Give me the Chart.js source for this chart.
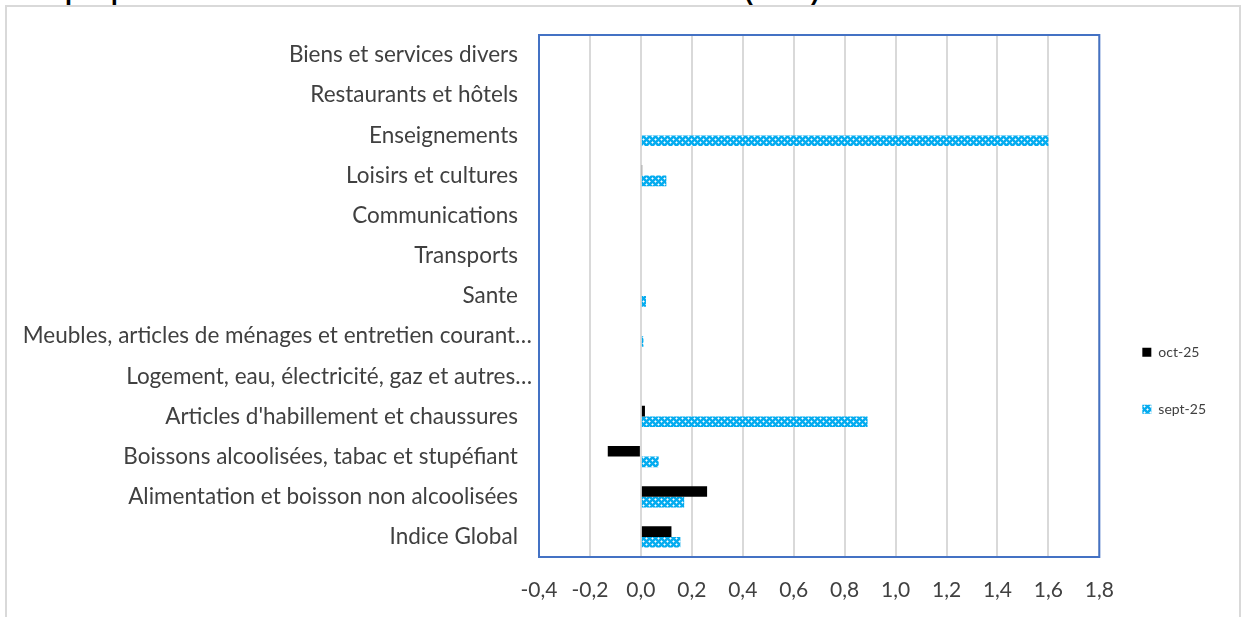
<!DOCTYPE html>
<html>
<head>
<meta charset="utf-8">
<script src="https://cdn.jsdelivr.net/npm/chart.js@4.4.1/dist/chart.umd.min.js"></script>
<style>
  html, body { margin:0; padding:0; background:#ffffff; overflow:hidden; }
  #wrap { position:relative; width:1243px; height:617px; }
  #title { position:absolute; left:22px; top:-21px; font-family:'Liberation Sans', Arial, sans-serif; font-weight:bold; font-size:25px; line-height:25px; color:#000; white-space:nowrap; }
  #frame { position:absolute; left:5px; top:5px; width:1236px; height:700px; border:2px solid #d9d9d9; box-sizing:border-box; }
  canvas { position:absolute; left:0; top:0; }
</style>
</head>
<body>
<div id="wrap">
  <div id="title">Graphique 2 : Variation mensuelle des indices des fonctions (en %)</div>
  <div id="frame"></div>
  <canvas id="c" width="1243" height="617"></canvas>
</div>
<script>
const categories = [
  'Biens et services divers',
  'Restaurants et hôtels',
  'Enseignements',
  'Loisirs et cultures',
  'Communications',
  'Transports',
  'Sante',
  'Meubles, articles de ménages et entretien courant…',
  'Logement, eau, électricité, gaz et autres…',
  "Articles d'habillement et chaussures",
  'Boissons alcoolisées, tabac et stupéfiant',
  'Alimentation et boisson non alcoolisées',
  'Indice Global'
];
const seriesNames = ['oct-25', 'sept-25'];
const oct25  = [0, 0, 0, 0.005, 0, 0, 0, 0, 0, 0.016, -0.13, 0.26, 0.12];
const sept25 = [0, 0, 1.6, 0.1, 0, 0, 0.02, 0.01, 0, 0.89, 0.07, 0.17, 0.155];
const xMin = -0.4, xMax = 1.8, xStep = 0.2;

const canvas = document.getElementById('c');
const ctx = canvas.getContext('2d');

function makePattern() {
  const p = document.createElement('canvas');
  p.width = 6; p.height = 6;
  const g = p.getContext('2d');
  g.fillStyle = '#05ACEF';
  g.fillRect(0, 0, 6, 6);
  g.fillStyle = '#8FD8F8';
  [[0,1],[2,1],[1,0],[1,2],[3,4],[5,4],[4,3],[4,5]].forEach(([x,y]) => g.fillRect(x, y, 1, 1));
  g.fillStyle = '#ffffff';
  [[1,1],[4,4]].forEach(([x,y]) => g.fillRect(x, y, 1, 1));
  return ctx.createPattern(p, 'repeat');
}
const septFill = makePattern();

const framePlugin = {
  id: 'plotFrame',
  afterDraw(chart) {
    const a = chart.chartArea, c = chart.ctx;
    c.save();
    c.strokeStyle = '#4472C4';
    c.lineWidth = 2;
    c.strokeRect(a.left, a.top, a.right - a.left, a.bottom - a.top);
    c.restore();
  }
};

new Chart(ctx, {
  type: 'bar',
  data: {
    labels: categories,
    datasets: [
      { label: seriesNames[0], data: oct25, backgroundColor: '#000000', borderWidth: 0 },
      { label: seriesNames[1], data: sept25, backgroundColor: septFill, borderWidth: 0 }
    ]
  },
  options: {
    indexAxis: 'y',
    responsive: false,
    animation: false,
    devicePixelRatio: 1,
    categoryPercentage: 0.53,
    barPercentage: 1.0,
    layout: { padding: { top: 35, right: 27, bottom: 0, left: 0 } },
    scales: {
      x: {
        type: 'linear',
        min: xMin, max: xMax,
        ticks: {
          stepSize: xStep,
          padding: 21,
          color: '#404040',
          font: { family: 'Lato', size: 21 },
          callback: v => (Math.round(v * 10) / 10).toFixed(1).replace('.', ',')
        },
        grid: { color: '#D9D9D9', lineWidth: 2, drawTicks: false },
        border: { display: false },
        afterFit(scale) { scale.height = 60; }
      },
      y: {
        type: 'category',
        ticks: {
          padding: 7,
          color: '#404040',
          font: { family: 'Lato', size: 22.5 },
          autoSkip: false,
          callback: function(v) {
            const l = this.getLabelForValue(v);
            return l.endsWith('…') ? l : l + '\u2002\u2009';
          }
        },
        grid: { display: false, drawTicks: false },
        border: { display: false },
        afterFit(scale) { scale.width = 539; }
      }
    },
    plugins: {
      legend: {
        position: 'right',
        align: 'center',
        fullSize: false,
        title: { display: true, text: '', padding: { top: 155, bottom: 0 } },
        labels: {
          boxWidth: 9,
          boxHeight: 9,
          padding: 43,
          color: '#404040',
          font: { family: 'Lato', size: 14 }
        }
      },
      tooltip: { enabled: false }
    }
  },
  plugins: [framePlugin]
});
</script>
</body>
</html>
